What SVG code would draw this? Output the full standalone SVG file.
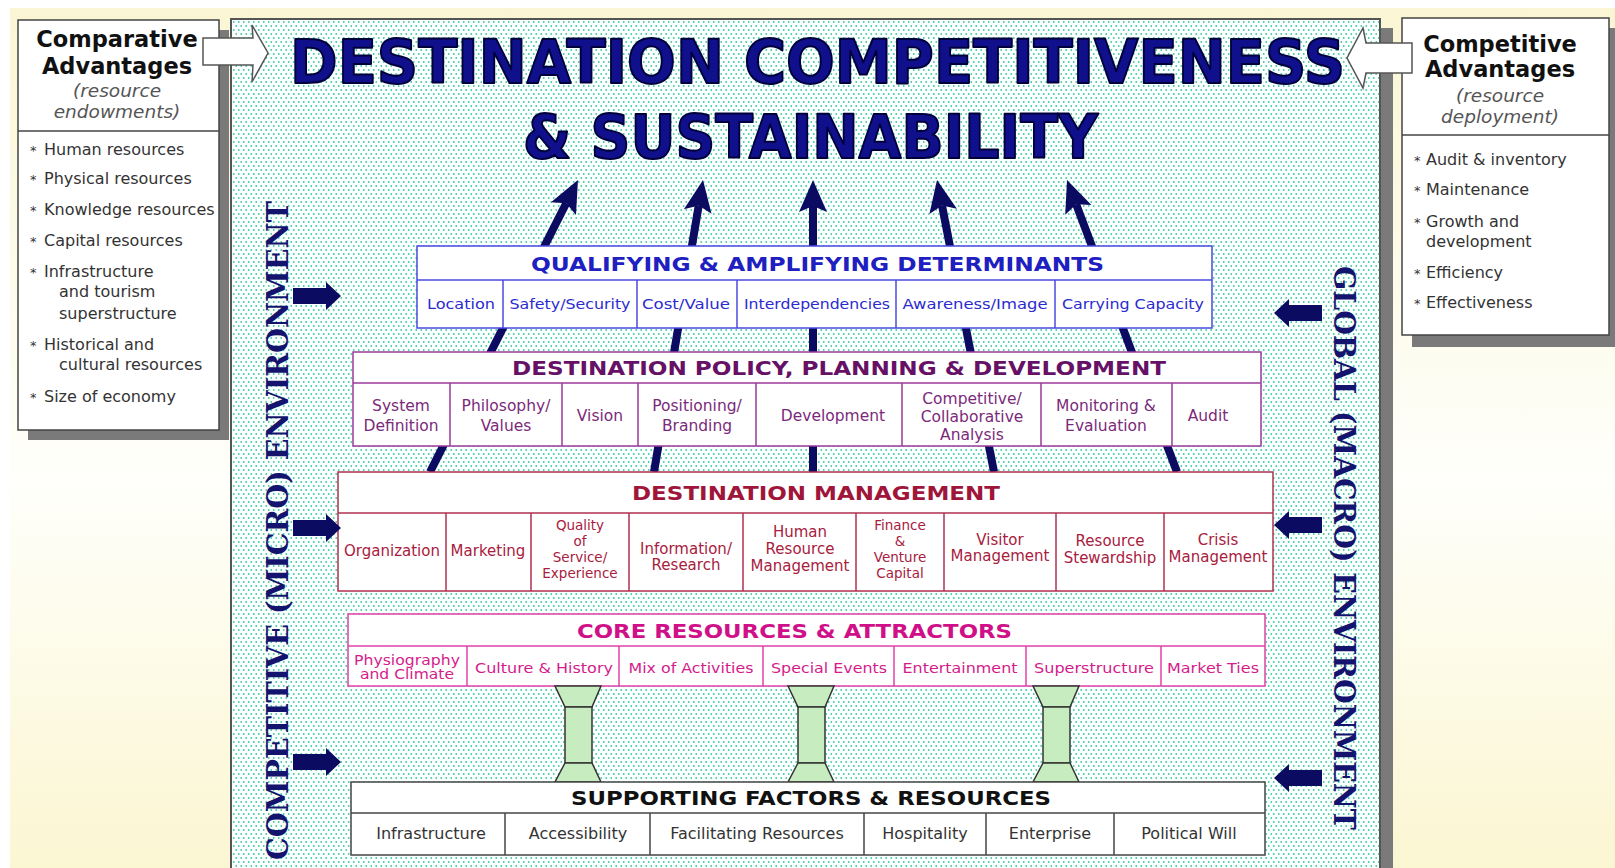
<svg xmlns="http://www.w3.org/2000/svg" width="1615" height="868" viewBox="0 0 1615 868">
<defs>
<linearGradient id="bg" x1="0" y1="0" x2="0" y2="1">
<stop offset="0" stop-color="#faf6d4"/>
<stop offset="0.55" stop-color="#fffffb"/>
<stop offset="1" stop-color="#fbf6d2"/>
</linearGradient>
<pattern id="dots" width="5" height="8" patternUnits="userSpaceOnUse">
<rect width="5" height="8" fill="#fbfffe"/>
<circle cx="1.25" cy="2" r="0.9" fill="#45c8a6"/>
<circle cx="3.75" cy="6" r="0.9" fill="#45c8a6"/>
</pattern>
<marker id="ah" markerUnits="userSpaceOnUse" markerWidth="34" markerHeight="30" refX="6" refY="14" orient="auto" overflow="visible">
<path d="M0,0 L32,14 L0,28 L6,14 z" fill="#0b0b62"/>
</marker>
<style>
.side{font-family:"DejaVu Sans",Verdana,sans-serif}
.st{font-size:22.5px;font-weight:bold;fill:#111;text-anchor:middle}
.si{font-size:18.5px;font-style:italic;fill:#555;text-anchor:middle}
.li{font-size:16px;fill:#333}
.bu{font-size:13px;fill:#333}
.title{font-family:"DejaVu Sans",Verdana,sans-serif;font-weight:bold;font-size:60px;fill:#10108c;stroke:#00003a;stroke-width:2;stroke-linejoin:round}
.hd{font-family:"DejaVu Sans",Verdana,sans-serif;font-weight:bold;font-size:20px;text-anchor:start}
.cell{font-family:"DejaVu Sans",Verdana,sans-serif;font-size:14px;text-anchor:middle}
.q{fill:#2b2bd0}.p{fill:#7b2a7b;font-size:15.5px}.m{fill:#a8203e;font-size:15px}.c{fill:#d41c8c}.s{fill:#333;font-size:16px}
.m4{font-size:13.5px}
.vt{font-family:"DejaVu Serif","Liberation Serif",serif;font-weight:bold;font-size:29px;fill:#14146e}
.conn line{stroke:#0b0b62;stroke-width:8;marker-end:url(#ah)}
.shadow{fill:#7a7a7a}
.hollow{fill:#fff;stroke:#555;stroke-width:1.5}
.fat{fill:#0b0b62}
.pil{fill:#c6ecc0;stroke:#333;stroke-width:1.5}
</style>
</defs>

<rect width="1615" height="868" fill="#fff"/>
<rect x="10" y="8" width="1605" height="860" fill="url(#bg)"/>

<g id="panel">
<rect x="1380" y="28" width="13" height="840" class="shadow"/>
<rect x="231" y="19" width="1149" height="860" fill="url(#dots)" stroke="#555" stroke-width="2"/>
</g>

<g id="title">
<text x="290" y="83" class="title" textLength="1055" lengthAdjust="spacingAndGlyphs">DESTINATION COMPETITIVENESS</text>
<text x="523" y="158" class="title" textLength="575" lengthAdjust="spacingAndGlyphs">&amp; SUSTAINABILITY</text>
</g>

<g id="connectors" class="conn">
<line x1="430" y1="472" x2="566.2" y2="203.2"/>
<line x1="654" y1="472" x2="698.7" y2="205.6"/>
<line x1="813" y1="472" x2="813" y2="206"/>
<line x1="994" y1="472" x2="942" y2="205.5"/>
<line x1="1177" y1="472" x2="1076.2" y2="204.3"/>
</g>

<g id="qualifying">
<rect x="417" y="246" width="795" height="82" fill="#fff" stroke="#4a4ae0" stroke-width="1.5"/>
<line x1="417" y1="280" x2="1212" y2="280" stroke="#4a4ae0" stroke-width="1.5"/>
<g stroke="#4a4ae0" stroke-width="1.5">
<line x1="503" y1="280" x2="503" y2="328"/><line x1="637" y1="280" x2="637" y2="328"/><line x1="737" y1="280" x2="737" y2="328"/><line x1="896" y1="280" x2="896" y2="328"/><line x1="1055" y1="280" x2="1055" y2="328"/>
</g>
<text x="531" y="271" class="hd" fill="#2020c0" textLength="573" lengthAdjust="spacingAndGlyphs">QUALIFYING &amp; AMPLIFYING DETERMINANTS</text>
<text x="461" y="309" class="cell q" textLength="68" lengthAdjust="spacingAndGlyphs">Location</text>
<text x="570" y="309" class="cell q" textLength="121" lengthAdjust="spacingAndGlyphs">Safety/Security</text>
<text x="686" y="309" class="cell q" textLength="88" lengthAdjust="spacingAndGlyphs">Cost/Value</text>
<text x="817" y="309" class="cell q" textLength="146" lengthAdjust="spacingAndGlyphs">Interdependencies</text>
<text x="975" y="309" class="cell q" textLength="145" lengthAdjust="spacingAndGlyphs">Awareness/Image</text>
<text x="1133" y="309" class="cell q" textLength="142" lengthAdjust="spacingAndGlyphs">Carrying Capacity</text>
</g>

<g id="policy">
<rect x="353" y="352" width="908" height="94" fill="#fff" stroke="#9a3a9a" stroke-width="1.5"/>
<line x1="353" y1="383" x2="1261" y2="383" stroke="#9a3a9a" stroke-width="1.5"/>
<g stroke="#9a3a9a" stroke-width="1.5">
<line x1="450" y1="383" x2="450" y2="446"/><line x1="562" y1="383" x2="562" y2="446"/><line x1="638" y1="383" x2="638" y2="446"/><line x1="756" y1="383" x2="756" y2="446"/><line x1="902" y1="383" x2="902" y2="446"/><line x1="1041" y1="383" x2="1041" y2="446"/><line x1="1172" y1="383" x2="1172" y2="446"/>
</g>
<text x="512" y="375" class="hd" fill="#661166" textLength="654" lengthAdjust="spacingAndGlyphs">DESTINATION POLICY, PLANNING &amp; DEVELOPMENT</text>
<text class="cell p"><tspan x="401" y="411">System</tspan><tspan x="401" y="431">Definition</tspan></text>
<text class="cell p"><tspan x="506" y="411">Philosophy/</tspan><tspan x="506" y="431">Values</tspan></text>
<text x="600" y="421" class="cell p">Vision</text>
<text class="cell p"><tspan x="697" y="411">Positioning/</tspan><tspan x="697" y="431">Branding</tspan></text>
<text x="833" y="421" class="cell p">Development</text>
<text class="cell p"><tspan x="972" y="404">Competitive/</tspan><tspan x="972" y="422">Collaborative</tspan><tspan x="972" y="440">Analysis</tspan></text>
<text class="cell p"><tspan x="1106" y="411">Monitoring &amp;</tspan><tspan x="1106" y="431">Evaluation</tspan></text>
<text x="1208" y="421" class="cell p">Audit</text>
</g>

<g id="management">
<rect x="338" y="472" width="935" height="119" fill="#fff" stroke="#b03050" stroke-width="1.5"/>
<line x1="338" y1="513" x2="1273" y2="513" stroke="#b03050" stroke-width="1.5"/>
<g stroke="#b03050" stroke-width="1.5">
<line x1="446" y1="513" x2="446" y2="591"/><line x1="531" y1="513" x2="531" y2="591"/><line x1="629" y1="513" x2="629" y2="591"/><line x1="743" y1="513" x2="743" y2="591"/><line x1="856" y1="513" x2="856" y2="591"/><line x1="944" y1="513" x2="944" y2="591"/><line x1="1056" y1="513" x2="1056" y2="591"/><line x1="1164" y1="513" x2="1164" y2="591"/>
</g>
<text x="632" y="500" class="hd" fill="#a0153a" textLength="368" lengthAdjust="spacingAndGlyphs">DESTINATION MANAGEMENT</text>
<text x="392" y="556" class="cell m">Organization</text>
<text x="488" y="556" class="cell m">Marketing</text>
<text class="cell m m4"><tspan x="580" y="530">Quality</tspan><tspan x="580" y="546">of</tspan><tspan x="580" y="562">Service/</tspan><tspan x="580" y="578">Experience</tspan></text>
<text class="cell m"><tspan x="686" y="554">Information/</tspan><tspan x="686" y="570">Research</tspan></text>
<text class="cell m"><tspan x="800" y="537">Human</tspan><tspan x="800" y="554">Resource</tspan><tspan x="800" y="571">Management</tspan></text>
<text class="cell m m4"><tspan x="900" y="530">Finance</tspan><tspan x="900" y="546">&amp;</tspan><tspan x="900" y="562">Venture</tspan><tspan x="900" y="578">Capital</tspan></text>
<text class="cell m"><tspan x="1000" y="545">Visitor</tspan><tspan x="1000" y="561">Management</tspan></text>
<text class="cell m"><tspan x="1110" y="546">Resource</tspan><tspan x="1110" y="563">Stewardship</tspan></text>
<text class="cell m"><tspan x="1218" y="545">Crisis</tspan><tspan x="1218" y="562">Management</tspan></text>
</g>

<g id="core">
<rect x="348" y="614" width="917" height="72" fill="#fff" stroke="#e040a8" stroke-width="1.5"/>
<line x1="348" y1="646" x2="1265" y2="646" stroke="#e040a8" stroke-width="1.5"/>
<g stroke="#e040a8" stroke-width="1.5">
<line x1="467" y1="646" x2="467" y2="686"/><line x1="619" y1="646" x2="619" y2="686"/><line x1="763" y1="646" x2="763" y2="686"/><line x1="894" y1="646" x2="894" y2="686"/><line x1="1026" y1="646" x2="1026" y2="686"/><line x1="1161" y1="646" x2="1161" y2="686"/>
</g>
<text x="577" y="638" class="hd" fill="#d01088" textLength="435" lengthAdjust="spacingAndGlyphs">CORE RESOURCES &amp; ATTRACTORS</text>
<text class="cell c"><tspan x="407" y="665" textLength="106" lengthAdjust="spacingAndGlyphs">Physiography</tspan><tspan x="407" y="679" textLength="94" lengthAdjust="spacingAndGlyphs">and Climate</tspan></text>
<text x="544" y="673" class="cell c" textLength="138" lengthAdjust="spacingAndGlyphs">Culture &amp; History</text>
<text x="691" y="673" class="cell c" textLength="125" lengthAdjust="spacingAndGlyphs">Mix of Activities</text>
<text x="829" y="673" class="cell c" textLength="116" lengthAdjust="spacingAndGlyphs">Special Events</text>
<text x="960" y="673" class="cell c" textLength="115" lengthAdjust="spacingAndGlyphs">Entertainment</text>
<text x="1094" y="673" class="cell c" textLength="120" lengthAdjust="spacingAndGlyphs">Superstructure</text>
<text x="1213" y="673" class="cell c" textLength="92" lengthAdjust="spacingAndGlyphs">Market Ties</text>
</g>

<g id="pillars">
<g id="pillar1">
<path class="pil" d="M555,686 L601,686 L592,707 L565,707 z"/>
<rect class="pil" x="565" y="707" width="27" height="56"/>
<path class="pil" d="M565,763 L592,763 L601,782 L555,782 z"/>
</g>
<g id="pillar2">
<path class="pil" d="M788,686 L834,686 L825,707 L798,707 z"/>
<rect class="pil" x="798" y="707" width="27" height="56"/>
<path class="pil" d="M798,763 L825,763 L834,782 L788,782 z"/>
</g>
<g id="pillar3">
<path class="pil" d="M1033,686 L1079,686 L1070,707 L1043,707 z"/>
<rect class="pil" x="1043" y="707" width="27" height="56"/>
<path class="pil" d="M1043,763 L1070,763 L1079,782 L1033,782 z"/>
</g>
</g>

<g id="supporting">
<rect x="351" y="782" width="914" height="73" fill="#fff" stroke="#444" stroke-width="1.5"/>
<line x1="351" y1="813" x2="1265" y2="813" stroke="#444" stroke-width="1.5"/>
<g stroke="#444" stroke-width="1.5">
<line x1="505" y1="813" x2="505" y2="855"/><line x1="650" y1="813" x2="650" y2="855"/><line x1="864" y1="813" x2="864" y2="855"/><line x1="986" y1="813" x2="986" y2="855"/><line x1="1114" y1="813" x2="1114" y2="855"/>
</g>
<text x="571" y="805" class="hd" fill="#111" textLength="480" lengthAdjust="spacingAndGlyphs">SUPPORTING FACTORS &amp; RESOURCES</text>
<text x="431" y="839" class="cell s">Infrastructure</text>
<text x="578" y="839" class="cell s">Accessibility</text>
<text x="757" y="839" class="cell s">Facilitating Resources</text>
<text x="925" y="839" class="cell s">Hospitality</text>
<text x="1050" y="839" class="cell s">Enterprise</text>
<text x="1189" y="839" class="cell s">Political Will</text>
</g>

<g id="micro-env">
<text class="vt" transform="translate(288,860) rotate(-90)" textLength="659" lengthAdjust="spacingAndGlyphs">COMPETITIVE (MICRO) ENVIRONMENT</text>
<path class="fat" d="M293,288 L326,288 L326,282 L341,296 L326,310 L326,304 L293,304 z"/>
<path class="fat" d="M293,520 L326,520 L326,514 L341,528 L326,542 L326,536 L293,536 z"/>
<path class="fat" d="M293,754 L326,754 L326,748 L341,762 L326,776 L326,770 L293,770 z"/>
</g>

<g id="macro-env">
<text class="vt" transform="translate(1334,266) rotate(90)" textLength="564" lengthAdjust="spacingAndGlyphs">GLOBAL (MACRO) ENVIRONMENT</text>
<path class="fat" d="M1322,305 L1289,305 L1289,299 L1274,313 L1289,327 L1289,321 L1322,321 z"/>
<path class="fat" d="M1322,517 L1289,517 L1289,511 L1274,525 L1289,539 L1289,533 L1322,533 z"/>
<path class="fat" d="M1322,770 L1289,770 L1289,764 L1274,778 L1289,792 L1289,786 L1322,786 z"/>
</g>

<g id="comparative" class="side">
<rect x="28" y="30" width="201" height="410" class="shadow"/>
<rect x="18" y="20" width="201" height="410" fill="#fff" stroke="#444" stroke-width="1.5"/>
<line x1="18" y1="131" x2="219" y2="131" stroke="#444" stroke-width="1.5"/>
<text x="117" y="47" class="st">Comparative</text>
<text x="117" y="74" class="st">Advantages</text>
<text x="117" y="97" class="si">(resource</text>
<text x="117" y="118" class="si">endowments)</text>
<text class="li"><tspan x="30" y="155" class="bu">*</tspan><tspan x="44" y="155">Human resources</tspan></text>
<text class="li"><tspan x="30" y="184" class="bu">*</tspan><tspan x="44" y="184">Physical resources</tspan></text>
<text class="li"><tspan x="30" y="215" class="bu">*</tspan><tspan x="44" y="215">Knowledge resources</tspan></text>
<text class="li"><tspan x="30" y="246" class="bu">*</tspan><tspan x="44" y="246">Capital resources</tspan></text>
<text class="li"><tspan x="30" y="277" class="bu">*</tspan><tspan x="44" y="277">Infrastructure</tspan><tspan x="59" y="297">and tourism</tspan><tspan x="59" y="319">superstructure</tspan></text>
<text class="li"><tspan x="30" y="350" class="bu">*</tspan><tspan x="44" y="350">Historical and</tspan><tspan x="59" y="370">cultural resources</tspan></text>
<text class="li"><tspan x="30" y="402" class="bu">*</tspan><tspan x="44" y="402">Size of economy</tspan></text>
<path class="hollow" d="M203,38 L253,38 L252,25 L268,53 L252,82 L253,65 L203,65 z"/>
</g>

<g id="competitive" class="side">
<rect x="1412" y="28" width="203" height="319" class="shadow"/>
<rect x="1402" y="18" width="207" height="317" fill="#fff" stroke="#444" stroke-width="1.5"/>
<line x1="1402" y1="135" x2="1609" y2="135" stroke="#444" stroke-width="1.5"/>
<text x="1500" y="52" class="st">Competitive</text>
<text x="1500" y="77" class="st">Advantages</text>
<text x="1500" y="102" class="si">(resource</text>
<text x="1500" y="123" class="si">deployment)</text>
<text class="li"><tspan x="1414" y="165" class="bu">*</tspan><tspan x="1426" y="165">Audit &amp; inventory</tspan></text>
<text class="li"><tspan x="1414" y="195" class="bu">*</tspan><tspan x="1426" y="195">Maintenance</tspan></text>
<text class="li"><tspan x="1414" y="227" class="bu">*</tspan><tspan x="1426" y="227">Growth and</tspan><tspan x="1426" y="247">development</tspan></text>
<text class="li"><tspan x="1414" y="278" class="bu">*</tspan><tspan x="1426" y="278">Efficiency</tspan></text>
<text class="li"><tspan x="1414" y="308" class="bu">*</tspan><tspan x="1426" y="308">Effectiveness</tspan></text>
<path class="hollow" d="M1412,43 L1366,43 L1363,28 L1347,58 L1363,88 L1366,73 L1412,73 z"/>
</g>
</svg>
